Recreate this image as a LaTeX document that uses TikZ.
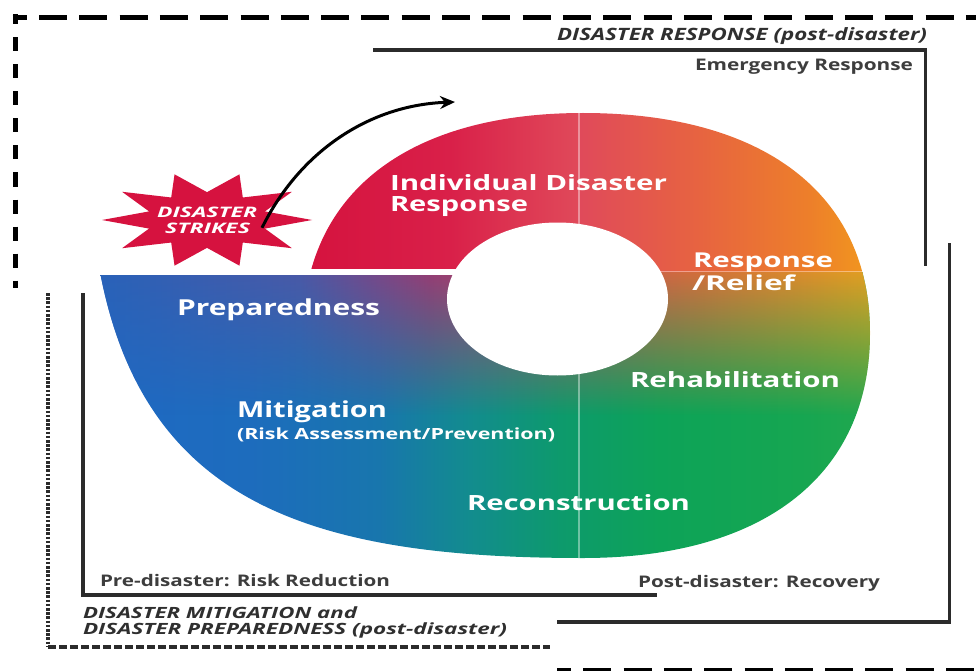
\documentclass[tikz,border=0pt]{standalone}
\usepackage{fontspec}
\setmainfont{Open Sans}
\usepackage{graphicx}
\usetikzlibrary{arrows.meta,fadings}

% palette
\definecolor{burst}{HTML}{D6123F}
\definecolor{headgray}{HTML}{2F2F2F}
\definecolor{labelgray}{HTML}{3D3D3D}
\definecolor{bracketgray}{HTML}{2B2B2B}
% upper (response) half of the ring
\definecolor{uw1}{HTML}{D5123E}
\definecolor{uw2}{HTML}{D92049}
\definecolor{uw3}{HTML}{E04A5A}
\definecolor{uw4}{HTML}{E76440}
\definecolor{uw5}{HTML}{ED7F2A}
\definecolor{uw6}{HTML}{F29C1C}
% lower (mitigation / recovery) half
\definecolor{lc1}{HTML}{1F69C3}
\definecolor{lc2}{HTML}{1D6CBD}
\definecolor{lc3}{HTML}{1876AD}
\definecolor{lc4}{HTML}{128C8E}
\definecolor{lc5}{HTML}{0D9A6C}
\definecolor{lc6}{HTML}{0DA358}
\definecolor{lc7}{HTML}{16A651}
\definecolor{lc8}{HTML}{22A84E}
% warm glow along the top of the lower half
\definecolor{wt1}{HTML}{2A62B8}
\definecolor{wt2}{HTML}{4C58A6}
\definecolor{wt3}{HTML}{9C3A72}
\definecolor{wt4}{HTML}{CC4A5C}
\definecolor{wt5}{HTML}{DD6C3A}
\definecolor{wt6}{HTML}{ECA21E}

\pgfdeclarehorizontalshading{upperwarm}{100bp}{color(0bp)=(uw1); color(37.8bp)=(uw1); color(47.4bp)=(uw2); color(55.8bp)=(uw3); color(63.5bp)=(uw4); color(70.5bp)=(uw5); color(75bp)=(uw6); color(100bp)=(uw6)}
\pgfdeclarehorizontalshading{lowercool}{100bp}{color(0bp)=(lc1); color(25bp)=(lc1); color(34.6bp)=(lc2); color(42.9bp)=(lc3); color(48.7bp)=(lc4); color(54.5bp)=(lc5); color(60.9bp)=(lc6); color(69.9bp)=(lc7); color(75bp)=(lc8); color(100bp)=(lc8)}
\pgfdeclarehorizontalshading{warmtop}{100bp}{color(0bp)=(wt1); color(25bp)=(wt1); color(37.8bp)=(wt2); color(46.2bp)=(wt3); color(54.5bp)=(wt4); color(63.5bp)=(wt5); color(75bp)=(wt6); color(100bp)=(wt6)}
\tikzfading[name=warmfade, top color=transparent!5, bottom color=transparent!100]

% stretch a label horizontally to a given width, keeping its height
\newcommand{\fitw}[2]{\resizebox{#1}{\height}{#2}}
\newcommand{\fsz}[1]{\fontsize{#1}{#1}\selectfont}

\tikzset{
  lbl/.style={inner sep=0pt, outer sep=0pt, anchor=base west},
  ringlbl/.style={lbl, text=white, font=\bfseries\fsz{21}},
  burstlbl/.style={lbl, text=white, font=\bfseries\itshape\fsz{14.5}},
  headlbl/.style={lbl, text=headgray, font=\bfseries\itshape\fsz{15.5}},
  notelbl/.style={lbl, text=labelgray, font=\bfseries\fsz{16}},
  bracket/.style={draw=bracketgray, line width=3.2pt},
  bigdashh/.style={draw=black, line width=5.5pt, dash pattern=on 28pt off 12.3pt, dash phase=14pt},
  bigdashv/.style={draw=black, line width=5.5pt, dash pattern=on 14pt off 13pt, dash phase=4pt},
  finedashv/.style={draw=bracketgray, line width=3.5pt, dash pattern=on 2.6pt off 1.6pt},
  finedashh/.style={draw=bracketgray, line width=3.5pt, dash pattern=on 8pt off 3pt},
  guide/.style={draw=white, line width=1.5pt, opacity=0.4},
  strikearrow/.style={draw=black, line width=3pt, -{Stealth[length=15pt, width=13pt, inset=5pt]}}
}

\begin{document}
\begin{tikzpicture}[x=1pt, y=-1pt]
\useasboundingbox (0,0) rectangle (976,671);

% ---- ring: upper (response) half ----
\begin{scope}
  \clip (90,100) rectangle (885,272);
  \clip (583,113) .. controls (764,113) and (870,194) .. (870,333)
        .. controls (870,475) and (764,558) .. (583,558)
        .. controls (407,558) and (303,475) .. (303,333)
        .. controls (303,194) and (407,113) .. (583,113) -- cycle;
  \shade[shading=upperwarm] (100,100) rectangle (880,272);
\end{scope}

% ---- ring: lower half, widened to the left ----
\begin{scope}
  \clip (90,272) rectangle (885,570);
  \clip (100,272) .. controls (144,503) and (310,558) .. (583,558)
        .. controls (764,558) and (870,475) .. (870,333)
        .. controls (870,194) and (764,113) .. (583,113) -- (100,113) -- cycle;
  \shade[shading=lowercool] (100,272) rectangle (880,560);
  \shade[shading=warmtop, path fading=warmfade] (100,272) rectangle (880,415);
\end{scope}

% hole and dividing lines
\fill[white] (557.5,299) ellipse [x radius=110.5pt, y radius=76.5pt];
\fill[white] (95,269) rectangle (462,274.5);
\draw[guide] (640,271.5) -- (875,271.5);
\draw[guide] (579,110) -- (579,560);

% ---- disaster strikes burst ----
\fill[burst] (312,220) \foreach \k in {1,...,19} {
    -- ({207+105*ifthenelse(mod(\k,2)==0,1,0.58)*cos(18*\k)},
        {220-48*ifthenelse(mod(\k,2)==0,1,0.58)*sin(18*\k)}) } -- cycle;
\node[burstlbl] (strike1) at (157,217) {\fitw{100pt}{DISASTER}};
\node[burstlbl] (strike2) at (165,233) {\fitw{85pt}{STRIKES}};
\coordinate (arrowtip) at (455,102);
\draw[strikearrow] ([xshift=12pt]strike2.east) .. controls +(38,-77) and +(-85,3) .. (arrowtip);

% ---- ring labels ----
\node[ringlbl] (ind1) at (390,190) {\fitw{277pt}{Individual Disaster}};
\node[ringlbl] (ind2) at (390,211) {\fitw{138pt}{Response}};
\node[ringlbl, font=\bfseries\fsz{20.5}] (resp1) at (693,267) {\fitw{140pt}{Response}};
\node[ringlbl, font=\bfseries\fsz{20.5}] (resp2) at (692,290) {\fitw{103pt}{/Relief}};
\node[ringlbl, font=\bfseries\fsz{22}] (prep) at (177,315) {\fitw{203pt}{Preparedness}};
\node[ringlbl, font=\bfseries\fsz{22}] (miti) at (237,417) {\fitw{150pt}{Mitigation}};
\node[ringlbl, font=\bfseries\fsz{15.4}] (mitisub) at (237,439) {\fitw{318pt}{(Risk Assessment/Prevention)}};
\node[ringlbl] (rehab) at (630,387) {\fitw{210pt}{Rehabilitation}};
\node[ringlbl] (recon) at (467,510) {\fitw{223pt}{Reconstruction}};

% ---- response side frames ----
\draw[bigdashv] (15.5,14.5) -- (15.5,288);
\draw[bigdashh] (12.7,17.5) -- (990,17.5);
\draw[bigdashh] (557,670.5) -- (990,670.5);
\node[headlbl, font=\bfseries\itshape\fsz{17}] (hresp) at (557,41) {\fitw{370pt}{DISASTER RESPONSE (post-disaster)}};
\draw[bracket] (373,50) -- (925.3,50) -- (925.3,266);
\node[notelbl] (emerg) at (695,71) {\fitw{218pt}{Emergency Response}};
\draw[bracket] (949.5,243) -- (949.5,622) -- (557,622);
\node[notelbl] (post) at (638,587) {\fitw{242pt}{Post-disaster: Recovery}};

% ---- mitigation side frames ----
\draw[bracket] (83,293) -- (83,595) -- (657,595);
\node[notelbl] (pre) at (100,586) {\fitw{290pt}{Pre-disaster: Risk Reduction}};
\draw[finedashv] (48,293) -- (48,647);
\draw[finedashh] (48,647) -- (550,647);
\node[headlbl] (hmit1) at (83,618) {\fitw{274pt}{DISASTER MITIGATION and}};
\node[headlbl] (hmit2) at (83,634) {\fitw{424pt}{DISASTER PREPAREDNESS (post-disaster)}};
\end{tikzpicture}
\end{document}
